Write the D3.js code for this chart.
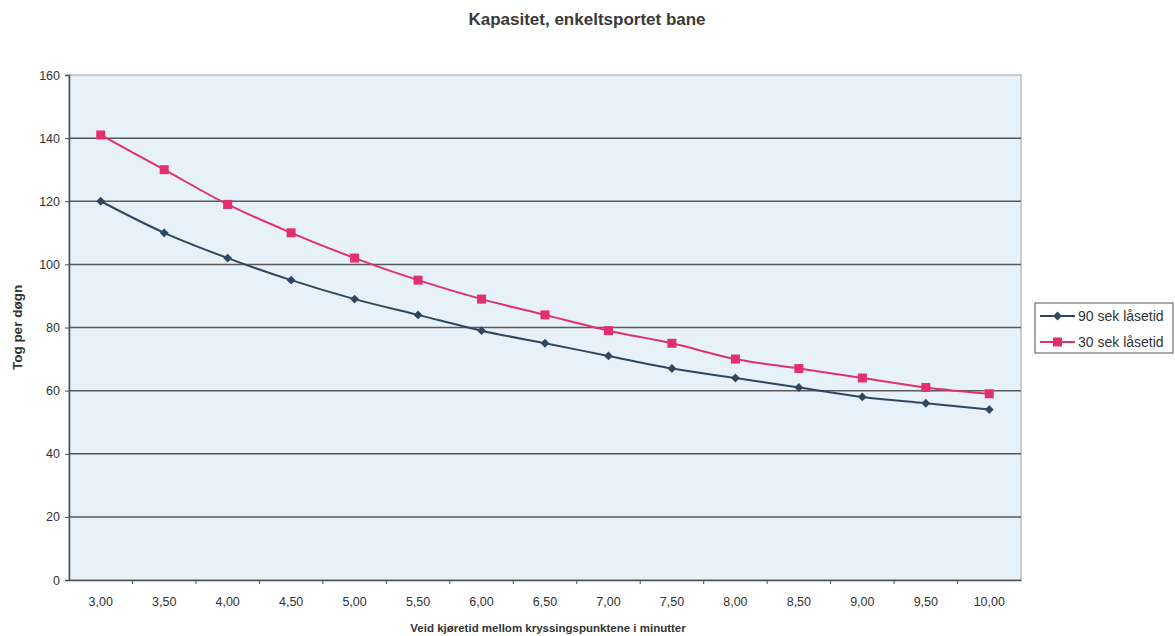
<!DOCTYPE html>
<html>
<head>
<meta charset="utf-8">
<script src="https://cdn.jsdelivr.net/npm/d3@7"></script>
<style>
  body { margin: 0; background: #fff; }
  text { font-family: "Liberation Sans", Arial, sans-serif; }
</style>
</head>
<body>
<div id="chart"></div>
<script>
var categories = ["3,00","3,50","4,00","4,50","5,00","5,50","6,00","6,50","7,00","7,50","8,00","8,50","9,00","9,50","10,00"];
var seriesNames = ["90 sek låsetid", "30 sek låsetid"];
var values90 = [120, 110, 102, 95, 89, 84, 79, 75, 71, 67, 64, 61, 58, 56, 54];
var values30 = [141, 130, 119, 110, 102, 95, 89, 84, 79, 75, 70, 67, 64, 61, 59];
var yTicks = [0, 20, 40, 60, 80, 100, 120, 140, 160];

var W = 1175, H = 636;
var margin = {top: 75, right: 154, bottom: 56, left: 69},
    width = W - margin.left - margin.right,
    height = H - margin.top - margin.bottom;

var svg = d3.select("#chart").append("svg")
    .attr("width", W)
    .attr("height", H);

var g = svg.append("g")
    .attr("transform", "translate(" + margin.left + "," + margin.top + ")");

var x = d3.scaleBand().domain(categories).range([0, width]);
var y = d3.scaleLinear().domain([0, 160]).range([height, 0]);

// plot background
g.append("rect")
    .attr("width", width)
    .attr("height", height)
    .attr("fill", "#e6f1f9")
    .attr("stroke", "#a0a0a0");

// gridlines
g.selectAll(".grid")
    .data(yTicks.filter(function(d){ return d > 0 && d < 160; }))
    .enter().append("line")
    .attr("x1", 0).attr("x2", width)
    .attr("y1", function(d){ return y(d); })
    .attr("y2", function(d){ return y(d); })
    .attr("stroke", "#5a5a5a")
    .attr("stroke-width", 1.5);

// axes
var yAxis = g.append("g")
    .call(d3.axisLeft(y).tickValues(yTicks).tickSize(4).tickPadding(5));
var xAxis = g.append("g")
    .attr("transform", "translate(0," + height + ")")
    .call(d3.axisBottom(x).tickSize(0).tickPadding(17));

[yAxis, xAxis].forEach(function(a){
  a.select(".domain").attr("stroke", "#4a4f55").attr("stroke-width", 1.5);
  a.selectAll(".tick line").attr("stroke", "#4a4f55");
  a.selectAll("text").attr("fill", "#333").attr("font-size", 12.5)
    .attr("font-family", "'Liberation Sans', Arial, sans-serif");
});

// x ticks between categories
g.selectAll(".xtick")
    .data(categories.slice(1))
    .enter().append("line")
    .attr("x1", function(d){ return x(d); })
    .attr("x2", function(d){ return x(d); })
    .attr("y1", height).attr("y2", height + 4)
    .attr("stroke", "#4a4f55");

var line = d3.line()
    .x(function(d, i){ return x(categories[i]) + x.bandwidth() / 2; })
    .y(function(d){ return y(d); })
    .curve(d3.curveMonotoneX);

var series = [
  {name: seriesNames[0], values: values90, color: "#2f4860", marker: "diamond"},
  {name: seriesNames[1], values: values30, color: "#e2306e", marker: "square"}
];

function marker(sel, s, cx, cy) {
  if (s.marker === "diamond") {
    sel.append("path")
      .attr("d", d3.symbol().type(d3.symbolDiamond2).size(50)())
      .attr("transform", "translate(" + cx + "," + cy + ")")
      .attr("fill", s.color);
  } else {
    sel.append("rect")
      .attr("x", cx - 4.5).attr("y", cy - 4.5)
      .attr("width", 9).attr("height", 9)
      .attr("fill", s.color);
  }
}

series.forEach(function(s){
  g.append("path")
    .datum(s.values)
    .attr("fill", "none")
    .attr("stroke", s.color)
    .attr("stroke-width", 2)
    .attr("d", line);
  s.values.forEach(function(v, i){
    marker(g, s, x(categories[i]) + x.bandwidth() / 2, y(v));
  });
});

// title
svg.append("text")
    .attr("x", 587).attr("y", 25)
    .attr("text-anchor", "middle")
    .attr("font-size", 17).attr("font-weight", "bold")
    .attr("fill", "#3a3a3a")
    .text("Kapasitet, enkeltsportet bane");

// axis titles
svg.append("text")
    .attr("transform", "translate(22," + (margin.top + height / 2) + ") rotate(-90)")
    .attr("text-anchor", "middle")
    .attr("font-size", 13.5).attr("font-weight", "bold")
    .attr("fill", "#333")
    .text("Tog per døgn");

svg.append("text")
    .attr("x", 548).attr("y", 632)
    .attr("text-anchor", "middle")
    .attr("font-size", 11.5).attr("font-weight", "bold")
    .attr("fill", "#333")
    .text("Veid kjøretid mellom kryssingspunktene i minutter");

// legend
var lg = svg.append("g").attr("transform", "translate(1035,303)");
lg.append("rect")
    .attr("width", 138).attr("height", 50)
    .attr("fill", "#fff").attr("stroke", "#555");
series.forEach(function(s, i){
  var ly = 13 + i * 26;
  lg.append("line")
    .attr("x1", 5).attr("x2", 40)
    .attr("y1", ly).attr("y2", ly)
    .attr("stroke", s.color).attr("stroke-width", 2);
  marker(lg, s, 22.5, ly);
  lg.append("text")
    .attr("x", 43).attr("y", ly + 5)
    .attr("font-size", 14).attr("fill", "#333")
    .text(s.name);
});
</script>
</body>
</html>
